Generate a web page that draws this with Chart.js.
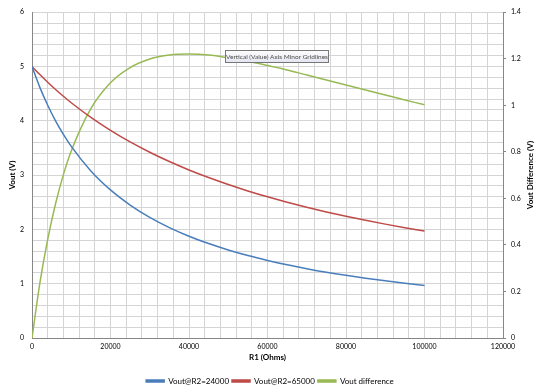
<!DOCTYPE html>
<html>
<head>
<meta charset="utf-8">
<script src="https://cdn.jsdelivr.net/npm/chart.js@4"></script>
<style>
  html, body { margin: 0; padding: 0; background: #fff; }
  #wrap { width: 540px; height: 391px; }
</style>
</head>
<body>
<div id="wrap"><canvas id="voutChart" width="540" height="391"></canvas></div>
<script>
// R1 (Ohms) sample points
const r1Values = [0, 2000, 4000, 6000, 8000, 10000, 15000, 20000, 25000, 30000, 35000, 40000,
  45000, 50000, 55000, 60000, 65000, 70000, 75000, 80000, 85000, 90000, 95000, 100000];
const vout24000 = [5, 4.615, 4.286, 4.0, 3.75, 3.529, 3.077, 2.727, 2.449, 2.222, 2.034, 1.875,
  1.739, 1.622, 1.519, 1.429, 1.348, 1.277, 1.212, 1.154, 1.101, 1.053, 1.008, 0.968];
const vout65000 = [5, 4.851, 4.710, 4.577, 4.452, 4.333, 4.063, 3.824, 3.611, 3.421, 3.25, 3.095,
  2.955, 2.826, 2.708, 2.6, 2.5, 2.407, 2.321, 2.241, 2.167, 2.097, 2.031, 1.970];
const voutDiff = [0, 0.236, 0.424, 0.577, 0.702, 0.804, 0.986, 1.097, 1.162, 1.199, 1.216, 1.220,
  1.216, 1.204, 1.189, 1.171, 1.152, 1.130, 1.109, 1.087, 1.066, 1.044, 1.023, 1.002];
const seriesNames = ['Vout@R2=24000', 'Vout@R2=65000', 'Vout difference'];

const FONT = 'Lato, "Liberation Sans", sans-serif';
const gridColor = '#d4d4d4';

function toPoints(ys) {
  return r1Values.map((x, i) => ({ x: x, y: ys[i] }));
}

// right axis title + the Excel hover box
const overlayPlugin = {
  id: 'overlay',
  afterDraw(chart) {
    const ctx = chart.ctx;
    ctx.save();
    // right axis title, reads bottom to top
    ctx.translate(530, (chart.chartArea.top + chart.chartArea.bottom) / 2);
    ctx.rotate(-Math.PI / 2);
    ctx.font = 'bold 8px ' + FONT;
    ctx.fillStyle = '#000';
    ctx.textAlign = 'center';
    ctx.textBaseline = 'middle';
    ctx.fillText('Vout Difference (V)', 0, 0);
    ctx.restore();

    // tooltip box
    ctx.save();
    const bx = 225, by = 50, bw = 103, bh = 12;
    const g = ctx.createLinearGradient(0, by, 0, by + bh);
    g.addColorStop(0, '#ffffff');
    g.addColorStop(1, '#e4e5f0');
    ctx.fillStyle = g;
    ctx.fillRect(bx, by, bw, bh);
    ctx.strokeStyle = '#767676';
    ctx.lineWidth = 1;
    ctx.strokeRect(bx + 0.5, by + 0.5, bw, bh);
    ctx.font = '6.5px ' + FONT;
    ctx.fillStyle = '#4c4c4c';
    ctx.textAlign = 'center';
    ctx.textBaseline = 'middle';
    ctx.fillText('Vertical (Value) Axis Minor Gridlines', bx + bw / 2 + 0.5, by + bh / 2 + 1);
    ctx.restore();
  }
};

const chartEl = document.getElementById('voutChart');
new Chart(chartEl, {
  type: 'line',
  data: {
    datasets: [
      {
        label: seriesNames[0],
        data: toPoints(vout24000),
        borderColor: '#4a7ebb',
        backgroundColor: '#4a7ebb',
        borderWidth: 1.5,
        yAxisID: 'y'
      },
      {
        label: seriesNames[1],
        data: toPoints(vout65000),
        borderColor: '#be4b48',
        backgroundColor: '#be4b48',
        borderWidth: 1.5,
        yAxisID: 'y'
      },
      {
        label: seriesNames[2],
        data: toPoints(voutDiff),
        borderColor: '#98b954',
        backgroundColor: '#98b954',
        borderWidth: 1.5,
        yAxisID: 'y2'
      }
    ]
  },
  options: {
    responsive: false,
    animation: false,
    devicePixelRatio: 1,
    layout: { padding: { top: 7, left: 0, right: 0, bottom: -4 } },
    elements: {
      point: { radius: 0 },
      line: { cubicInterpolationMode: 'monotone' }
    },
    plugins: {
      tooltip: { enabled: false },
      legend: {
        position: 'bottom',
        labels: {
          boxWidth: 18,
          boxHeight: 2,
          padding: 3,
          color: '#000',
          font: { family: FONT, size: 8 }
        }
      }
    },
    scales: {
      x: {
        type: 'linear',
        min: 0,
        max: 120000,
        ticks: {
          stepSize: 4000,
          autoSkip: false,
          maxRotation: 0,
          padding: 5,
          color: '#000',
          font: { family: FONT, size: 7 },
          callback: v => (v % 20000 === 0 ? String(v) : '')
        },
        grid: { color: gridColor, drawTicks: false },
        border: { color: '#868686' },
        title: {
          display: true,
          text: 'R1 (Ohms)',
          color: '#000',
          font: { family: FONT, size: 8, weight: 'bold' },
          padding: { top: 2, bottom: 12 }
        },
        afterFit: s => { s.height = 36; }
      },
      y: {
        position: 'left',
        min: 0,
        max: 6,
        ticks: {
          stepSize: 0.2,
          autoSkip: false,
          padding: 8,
          color: '#000',
          font: { family: FONT, size: 7 },
          callback: v => (Math.abs(v - Math.round(v)) < 1e-6 ? String(Math.round(v)) : '')
        },
        grid: { color: gridColor, drawTicks: false },
        border: { color: '#868686' },
        title: {
          display: true,
          text: 'Vout (V)',
          color: '#000',
          font: { family: FONT, size: 8, weight: 'bold' },
          padding: { top: 8, bottom: 0 }
        },
        afterFit: s => { s.width = 32; }
      },
      y2: {
        position: 'right',
        min: 0,
        max: 1.4,
        ticks: {
          stepSize: 0.2,
          padding: 5,
          color: '#000',
          font: { family: FONT, size: 7 },
          callback: v => String(Math.round(v * 10) / 10)
        },
        grid: { drawOnChartArea: false, drawTicks: true, tickLength: 3, color: '#868686' },
        border: { color: '#868686' },
        afterFit: s => { s.width = 37; }
      }
    }
  },
  plugins: [overlayPlugin]
});
</script>
</body>
</html>
